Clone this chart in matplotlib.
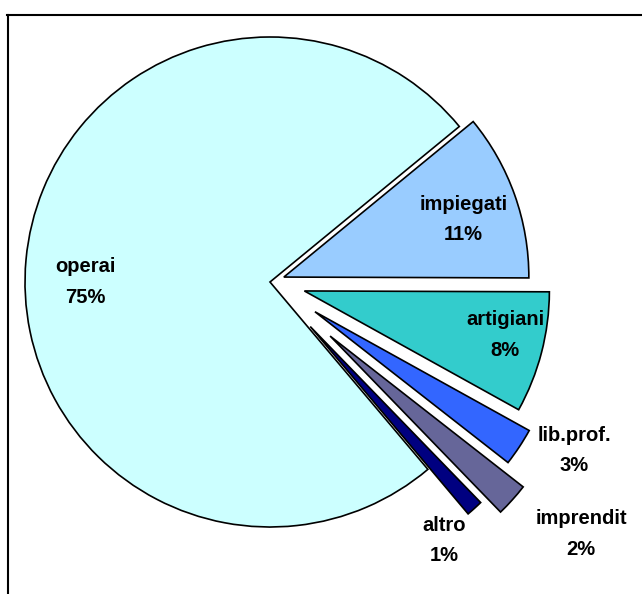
import matplotlib
matplotlib.use("Agg")
import matplotlib.pyplot as plt
from matplotlib.lines import Line2D
import numpy as np

# data
categories = ['operai', 'impiegati', 'artigiani', 'lib.prof.', 'imprendit', 'altro']
shares = [75.2, 11.0, 8.0, 2.5, 2.2, 1.1]
shown_pct = [75, 11, 8, 3, 2, 1]

colors = ['#CCFFFF', '#99CCFF', '#33CCCC', '#3366FF', '#666699', '#000080']
explode = [0.0, 0.06, 0.145, 0.22, 0.33, 0.245]

# label placement (radius, angle in degrees) around the pie centre
label_r = [0.755, 0.83, 0.983, 1.42, 1.634, 1.271]
label_ang = [180, 17.8, -12.7, -29, -39, -56]

plt.rcParams['font.family'] = ['Liberation Sans', 'DejaVu Sans']

fig = plt.figure(figsize=(6.42, 5.94), dpi=100)
ax = fig.add_axes([0, 0, 1, 1])

# operai runs clockwise and ends where impiegati starts (~39 deg)
start = 39.4 + 360 * shares[0] / sum(shares)
ax.pie(shares, colors=colors, explode=explode, startangle=start,
       counterclock=False, radius=1.0,
       wedgeprops=dict(edgecolor='black', linewidth=1.2))

for name, pct, r, a in zip(categories, shown_pct, label_r, label_ang):
    t = np.deg2rad(a)
    ax.text(r * np.cos(t), r * np.sin(t), f'{name}\n{pct}%', ha='center', va='center',
            fontsize=14.5, fontweight='bold', linespacing=1.75, multialignment='center')

ax.set_xlim(-270 / 245, (642 - 270) / 245)
ax.set_ylim((282 - 594) / 245, 282 / 245)
ax.set_aspect('auto')
ax.axis('off')

# chart area frame (left and top edges visible)
fig.add_artist(Line2D([7.5 / 642, 7.5 / 642], [0, 1 - 15 / 594], color='black', lw=1.5))
fig.add_artist(Line2D([7 / 642, 1], [1 - 15 / 594, 1 - 15 / 594], color='black', lw=1.5))

fig.savefig('out.png', dpi=100)
